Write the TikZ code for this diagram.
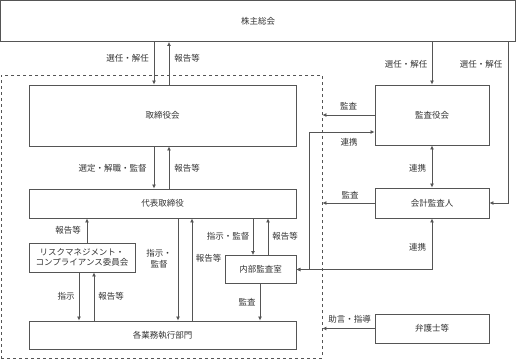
\documentclass[tikz,border=0pt]{standalone}
\usepackage{fontspec}
\setmainfont{Noto Sans CJK JP}
\usetikzlibrary{arrows.meta}
\definecolor{ln}{HTML}{555555}
\definecolor{tx}{HTML}{333333}
\tikzset{
  box/.style={draw=ln, line width=0.9pt, rectangle, inner sep=0pt, text=tx, font=\fontsize{8.5}{10.5}\selectfont, align=center},
  lbl/.style={text=tx, font=\fontsize{8.5}{10.5}\selectfont, inner sep=0pt, align=center},
  arr/.style={draw=ln, line width=0.9pt, -{Latex[length=4pt,width=4pt]}},
  darr/.style={draw=ln, line width=0.9pt, {Latex[length=4pt,width=4pt]}-{Latex[length=4pt,width=4pt]}},
  grpbox/.style={draw=ln, line width=0.8pt, dashed, rectangle, inner sep=0pt}
}
\begin{document}
\begin{tikzpicture}[x=1pt,y=-1pt]
\useasboundingbox (0,0) rectangle (517,360);
% group
\node[grpbox, minimum width=321pt, minimum height=283pt] (grp) at (161.5,216.5) {};
% boxes
\node[box, minimum width=515pt, minimum height=41pt] (kabu) at (258,21) {株主総会};
\node[box, minimum width=267pt, minimum height=61pt] (tori) at (162.5,115.5) {取締役会};
\node[box, minimum width=267pt, minimum height=29pt] (daihyo) at (162.5,203.5) {代表取締役};
\node[box, minimum width=106pt, minimum height=29pt] (risk) at (82,257.5) {リスクマネジメント・\\コンプライアンス委員会};
\node[box, minimum width=267pt, minimum height=28pt] (kaku) at (162.5,335) {各業務執行部門};
\node[box, minimum width=71pt, minimum height=28pt] (naibu) at (260.5,269.5) {内部監査室};
\node[box, minimum width=114pt, minimum height=60pt] (kansa) at (432,115) {監査役会};
\node[box, minimum width=114pt, minimum height=30pt] (kaikei) at (432,203) {会計監査人};
\node[box, minimum width=114pt, minimum height=29pt] (bengo) at (432,328.5) {弁護士等};
% x coordinates
\coordinate (x79) at (79,0);
\coordinate (x87) at (87,0);
\coordinate (x94) at (94,0);
\coordinate (x154) at (154,0);
\coordinate (x169) at (169,0);
\coordinate (x178) at (178,0);
\coordinate (x192) at (192,0);
\coordinate (x253) at (253,0);
\coordinate (x260) at (260,0);
\coordinate (x268) at (268,0);
\coordinate (x508) at (508,0);
\coordinate (c1) at (309,269.5);
\coordinate (c2) at (309,132);
\coordinate (c3) at (432,269.5);
% connectors
\draw[arr] (kabu.south -| x154) -- (tori.north -| x154);
\draw[arr] (tori.north -| x169) -- (kabu.south -| x169);
\draw[arr] (tori.south -| x154) -- (daihyo.north -| x154);
\draw[arr] (daihyo.north -| x169) -- (tori.south -| x169);
\draw[arr] (risk.north -| x87) -- (daihyo.south -| x87);
\draw[arr] (risk.south -| x79) -- (kaku.north -| x79);
\draw[arr] (kaku.north -| x94) -- (risk.south -| x94);
\draw[arr] (daihyo.south -| x178) -- (kaku.north -| x178);
\draw[arr] (kaku.north -| x192) -- (daihyo.south -| x192);
\draw[arr] (daihyo.south -| x253) -- (naibu.north -| x253);
\draw[arr] (naibu.north -| x268) -- (daihyo.south -| x268);
\draw[arr] (naibu.south -| x260) -- (kaku.north -| x260);
\draw[arr] (kabu.south -| kansa.north) -- (kansa.north);
\draw[arr] (kabu.south -| x508) |- (kaikei.east);
\draw[arr] (kansa.west) -- (kansa.west -| grp.east);
\draw[arr] (kaikei.west) -- (kaikei.west -| grp.east);
\draw[arr] (bengo.west) -- (bengo.west -| grp.east);
\draw[darr] (kansa.south) -- (kaikei.north);
\draw[darr] (naibu.east) -- (c1) -- (c2) -- (c2 -| kansa.west);
\draw[arr] (naibu.east) -- (c3) -- (kaikei.south);
\draw[arr] (c1) -- (naibu.east);
% labels
\node[lbl] (l1) at (127.5,58) {選任・解任};
\node[lbl] (l2) at (187,58) {報告等};
\node[lbl] (l3) at (406,64) {選任・解任};
\node[lbl] (l4) at (481,64) {選任・解任};
\node[lbl] (l5) at (112.5,168) {選定・解職・監督};
\node[lbl] (l6) at (187,168) {報告等};
\node[lbl] (l7) at (348.5,106) {監査};
\node[lbl] (l8) at (349,142) {連携};
\node[lbl] (l9) at (417.5,168) {連携};
\node[lbl] (l10) at (350,195) {監査};
\node[lbl] (l11) at (68,230) {報告等};
\node[lbl] (l12) at (66,296) {指示};
\node[lbl] (l13) at (111,296) {報告等};
\node[lbl, font=\fontsize{8.5}{11}\selectfont] (l14) at (159,258.5) {指示・\\監督};
\node[lbl] (l15) at (208.5,258) {報告等};
\node[lbl] (l16) at (228,236) {指示・監督};
\node[lbl] (l17) at (285,236) {報告等};
\node[lbl] (l18) at (247,302) {監査};
\node[lbl] (l19) at (417.5,247) {連携};
\node[lbl] (l20) at (349.5,319) {助言・指導};
\end{tikzpicture}
\end{document}
